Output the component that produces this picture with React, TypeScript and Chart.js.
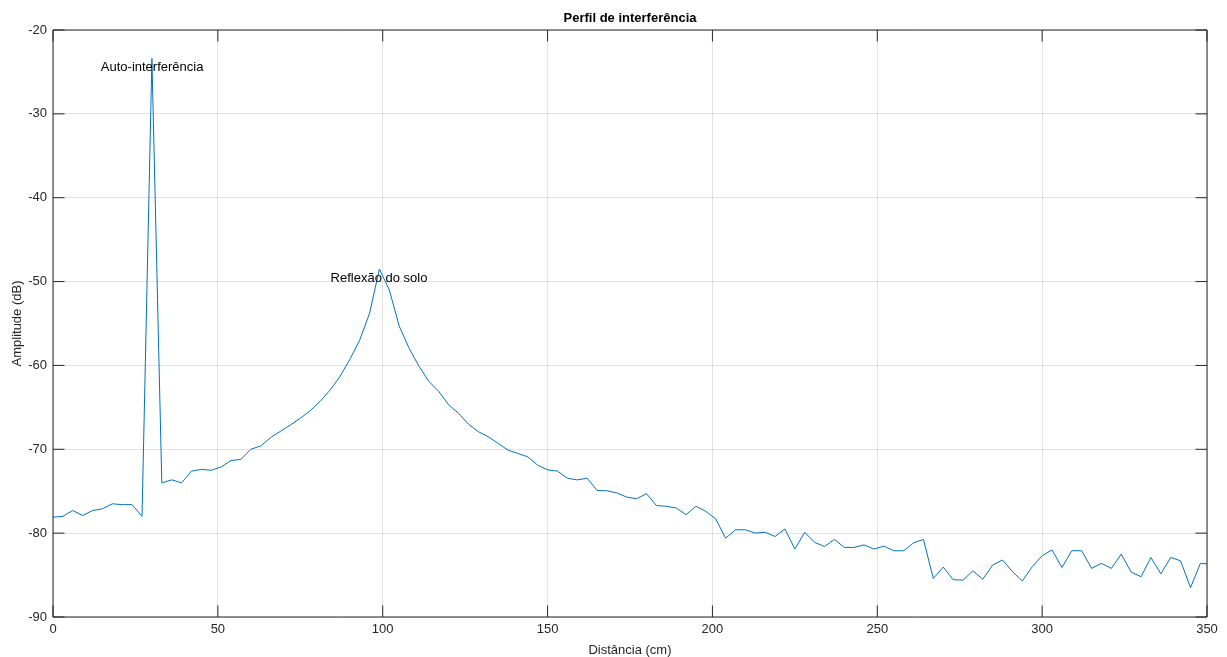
import React, { useEffect, useRef } from "react";
import { Chart, registerables } from "chart.js";

Chart.register(...registerables);

const distances: number[] = [
  0, 3, 6, 9, 12, 15, 18, 21, 24, 27, 30, 33, 36, 39, 42, 45, 48, 51, 54, 57,
  60, 63, 66, 69, 72, 75, 78, 81, 84, 87, 90, 93, 96, 99, 102, 105, 108, 111, 114, 117,
  120, 123, 126, 129, 132, 135, 138, 141, 144, 147, 150, 153, 156, 159, 162, 165, 168, 171, 174, 177,
  180, 183, 186, 189, 192, 195, 198, 201, 204, 207, 210, 213, 216, 219, 222, 225, 228, 231, 234, 237,
  240, 243, 246, 249, 252, 255, 258, 261, 264, 267, 270, 273, 276, 279, 282, 285, 288, 291, 294, 297,
  300, 303, 306, 309, 312, 315, 318, 321, 324, 327, 330, 333, 336, 339, 342, 345, 348, 351,
];

const amplitudes: number[] = [
  -78.1, -78.0, -77.3, -77.9, -77.3, -77.1, -76.5, -76.6, -76.6, -78.0,
  -23.4, -74.0, -73.65, -74.0, -72.6, -72.4, -72.5, -72.1, -71.35, -71.2,
  -70.0, -69.6, -68.6, -67.85, -67.1, -66.3, -65.4, -64.3, -62.95, -61.35,
  -59.3, -57.0, -53.8, -48.5, -51.0, -55.3, -57.95, -60.1, -61.9, -63.1,
  -64.7, -65.7, -67.0, -67.9, -68.5, -69.3, -70.1, -70.5, -70.9, -71.9,
  -72.45, -72.6, -73.45, -73.65, -73.45, -74.9, -74.95, -75.2, -75.7, -75.9,
  -75.3, -76.7, -76.8, -77.0, -77.8, -76.8, -77.4, -78.3, -80.6, -79.6,
  -79.6, -80.0, -79.9, -80.4, -79.5, -81.9, -79.9, -81.1, -81.6, -80.75,
  -81.7, -81.7, -81.4, -81.9, -81.55, -82.1, -82.1, -81.15, -80.75, -85.4,
  -84.05, -85.55, -85.6, -84.5, -85.5, -83.8, -83.2, -84.6, -85.7, -84.0,
  -82.7, -82.0, -84.1, -82.1, -82.1, -84.2, -83.6, -84.2, -82.5, -84.65,
  -85.2, -82.9, -84.85, -82.9, -83.3, -86.5, -83.6, -83.7,
];

const xTicks: number[] = [0, 50, 100, 150, 200, 250, 300, 350];
const yTicks: number[] = [-90, -80, -70, -60, -50, -40, -30, -20];

const titleText = "Perfil de interferência";
const xLabel = "Distância (cm)";
const yLabel = "Amplitude (dB)";

const annotationTexts: string[] = ["Auto-interferência", "Reflexão do solo"];
const annotationX: number[] = [14.5, 84.2];
const annotationY: number[] = [-24.5, -49.6];

const FONT = "'Liberation Sans', Arial, Helvetica, sans-serif";
const AXIS_COLOR = "#262626";

const decorPlugin = {
  id: "decor",
  afterDraw(chart: any) {
    const { ctx, chartArea, scales } = chart;
    const { left, right, top, bottom } = chartArea;
    const xs = scales.x;
    const ys = scales.y;
    ctx.save();
    // box
    ctx.strokeStyle = AXIS_COLOR;
    ctx.lineWidth = 1;
    ctx.beginPath();
    ctx.rect(left, top, right - left, bottom - top);
    ctx.stroke();
    // inward ticks
    const tl = 11.5;
    ctx.beginPath();
    xTicks.forEach((v) => {
      const px = xs.getPixelForValue(v);
      ctx.moveTo(px, bottom);
      ctx.lineTo(px, bottom - tl);
      ctx.moveTo(px, top);
      ctx.lineTo(px, top + tl);
    });
    yTicks.forEach((v) => {
      const py = ys.getPixelForValue(v);
      ctx.moveTo(left, py);
      ctx.lineTo(left + tl, py);
      ctx.moveTo(right, py);
      ctx.lineTo(right - tl, py);
    });
    ctx.stroke();
    // title
    ctx.fillStyle = "#000000";
    ctx.font = `bold 13px ${FONT}`;
    ctx.textAlign = "center";
    ctx.textBaseline = "middle";
    ctx.fillText(titleText, (left + right) / 2, 18);
    // axis labels
    ctx.fillStyle = AXIS_COLOR;
    ctx.font = `13px ${FONT}`;
    ctx.fillText(xLabel, (left + right) / 2, 650);
    ctx.save();
    ctx.translate(17, (top + bottom) / 2);
    ctx.rotate(-Math.PI / 2);
    ctx.fillText(yLabel, 0, 0);
    ctx.restore();
    // annotations
    ctx.fillStyle = "#000000";
    ctx.textAlign = "left";
    annotationTexts.forEach((t, i) => {
      ctx.fillText(t, xs.getPixelForValue(annotationX[i]), ys.getPixelForValue(annotationY[i]));
    });
    ctx.restore();
  },
};

export default function App() {
  const canvasRef = useRef<HTMLCanvasElement | null>(null);

  useEffect(() => {
    if (!canvasRef.current) return;
    const chart = new Chart(canvasRef.current, {
      type: "line",
      data: {
        datasets: [
          {
            data: distances.map((d, i) => ({ x: d, y: amplitudes[i] })),
            borderColor: "#0072BD",
            borderWidth: 1,
            pointRadius: 0,
            tension: 0,
            fill: false,
          },
        ],
      },
      options: {
        animation: false,
        responsive: false,
        maintainAspectRatio: false,
        layout: { padding: { top: 30, right: 20, left: 0, bottom: 0 } },
        plugins: {
          legend: { display: false },
          title: { display: false },
          tooltip: { enabled: false },
        },
        scales: {
          x: {
            type: "linear",
            min: 0,
            max: 350,
            afterBuildTicks: (scale: any) => {
              scale.ticks = xTicks.map((v) => ({ value: v }));
            },
            afterFit: (scale: any) => {
              scale.height = 40;
            },
            grid: { color: "rgba(38,38,38,0.13)", drawTicks: false },
            border: { display: false },
            ticks: {
              padding: 5,
              color: AXIS_COLOR,
              font: { family: FONT, size: 13 },
              maxRotation: 0,
              autoSkip: false,
            },
          },
          y: {
            type: "linear",
            min: -90,
            max: -20,
            afterBuildTicks: (scale: any) => {
              scale.ticks = yTicks.map((v) => ({ value: v }));
            },
            afterFit: (scale: any) => {
              scale.width = 53;
            },
            grid: { color: "rgba(38,38,38,0.13)", drawTicks: false },
            border: { display: false },
            ticks: {
              padding: 6,
              color: AXIS_COLOR,
              font: { family: FONT, size: 13 },
              autoSkip: false,
            },
          },
        },
      },
      plugins: [decorPlugin],
    } as any);
    return () => chart.destroy();
  }, []);

  return (
    <div style={{ position: "fixed", left: 0, top: 0, width: 1227, height: 657, background: "#ffffff" }}>
      <canvas ref={canvasRef} width={1227} height={657} style={{ width: 1227, height: 657 }} />
    </div>
  );
}
